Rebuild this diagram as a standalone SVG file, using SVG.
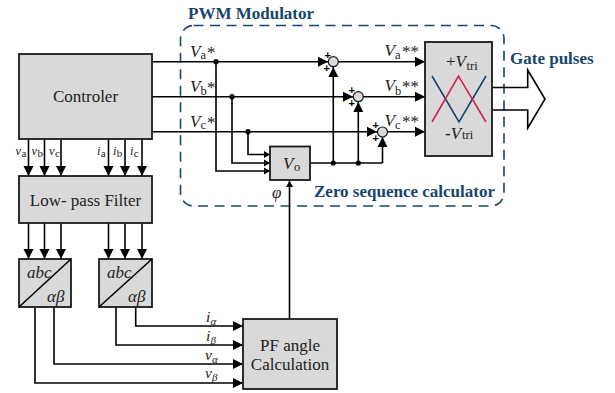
<svg xmlns="http://www.w3.org/2000/svg" width="615" height="393" viewBox="0 0 615 393">
<style>
.b{fill:#d9d9d9;stroke:#1a1a1a;stroke-width:1.8}
.c{fill:none;stroke:#000;stroke-width:1.6}
.t{font-family:"Liberation Serif",serif;fill:#222}
.i{font-style:italic}
.h{font-family:"Liberation Serif",serif;font-weight:bold;fill:#17456e;font-size:17px}
.m{font-size:17px}
.s{font-size:11px}
.x{font-size:12.500px}
.l{font-size:17px}
.n{font-size:12.500px}
.g{font-size:15.500px}
.d{fill:#000}
.o{fill:#d9d9d9;stroke:#1a1a1a;stroke-width:1.2}
.p{font-family:"Liberation Sans",sans-serif;font-weight:bold;font-size:11px;fill:#000;text-anchor:middle}
</style>
<defs>
<marker id="a" markerUnits="userSpaceOnUse" markerWidth="11" markerHeight="12" refX="10" refY="6" orient="auto"><path d="M0 1L10 6L0 11Z" fill="#000"/></marker>
<marker id="n" markerUnits="userSpaceOnUse" markerWidth="7" markerHeight="8" refX="6" refY="4" orient="auto"><path d="M0 0.5L6 4L0 7.500Z" fill="#000"/></marker>
</defs>
<rect x="180.500" y="25.500" width="323.500" height="180.500" rx="13" fill="none" stroke="#17456e" stroke-width="1.600" stroke-dasharray="10 6.500"/>
<g id="connectors">
<path class="c" marker-end="url(#a)" d="M152 61.700H328"/>
<path class="c" marker-end="url(#a)" d="M152 96.700H353"/>
<path class="c" marker-end="url(#a)" d="M152 131.700H377"/>
<path class="c" marker-end="url(#a)" d="M338 61.700H425"/>
<path class="c" marker-end="url(#a)" d="M363 96.700H425"/>
<path class="c" marker-end="url(#a)" d="M387 131.700H425"/>
<path class="c" marker-end="url(#n)" d="M248 131.700V154.500H270"/>
<path class="c" marker-end="url(#n)" d="M232 96.700V163H270"/>
<path class="c" marker-end="url(#n)" d="M216 61.700V171H270"/>
<path class="c" d="M310 163H382.500"/>
<path class="c" marker-end="url(#a)" d="M333.300 163V67"/>
<path class="c" marker-end="url(#a)" d="M358.300 163V102"/>
<path class="c" marker-end="url(#a)" d="M382.500 163V137"/>
<path class="c" marker-end="url(#n)" d="M289.500 319V181"/>
<path class="c" marker-end="url(#a)" d="M28.500 139V176"/>
<path class="c" marker-end="url(#a)" d="M44.500 139V176"/>
<path class="c" marker-end="url(#a)" d="M61 139V176"/>
<path class="c" marker-end="url(#a)" d="M108.500 139V176"/>
<path class="c" marker-end="url(#a)" d="M125 139V176"/>
<path class="c" marker-end="url(#a)" d="M142 139V176"/>
<path class="c" marker-end="url(#a)" d="M28.500 223V259"/>
<path class="c" marker-end="url(#a)" d="M44.500 223V259"/>
<path class="c" marker-end="url(#a)" d="M61 223V259"/>
<path class="c" marker-end="url(#a)" d="M108.500 223V259"/>
<path class="c" marker-end="url(#a)" d="M125 223V259"/>
<path class="c" marker-end="url(#a)" d="M142 223V259"/>
<path class="c" marker-end="url(#a)" d="M135.700 307V326H243"/>
<path class="c" marker-end="url(#a)" d="M116 307V345H243"/>
<path class="c" marker-end="url(#a)" d="M54 307V364H243"/>
<path class="c" marker-end="url(#a)" d="M35 307V383H243"/>
<path class="c" d="M492 87.500H527.700V70L545 99L527.700 128V110H492"/>
<circle class="d" cx="216" cy="61.700" r="2.600"/>
<circle class="d" cx="232" cy="96.700" r="2.600"/>
<circle class="d" cx="248" cy="131.700" r="2.600"/>
<circle class="d" cx="333.300" cy="163" r="2.600"/>
<circle class="d" cx="358.300" cy="163" r="2.600"/>
</g>
<g id="sum-a"><circle class="o" cx="333.300" cy="61.700" r="5"/><text class="p" x="327.700" y="59">+</text><text class="p" x="326.700" y="72">+</text></g>
<g id="sum-b"><circle class="o" cx="358.300" cy="96.700" r="5"/><text class="p" x="351.700" y="94">+</text><text class="p" x="351.700" y="107">+</text></g>
<g id="sum-c"><circle class="o" cx="382.500" cy="132" r="5"/><text class="p" x="375.700" y="129">+</text><text class="p" x="375.700" y="142">+</text></g>
<g id="controller"><rect class="b" x="19" y="54" width="133" height="85"/><text class="t l" x="85.500" y="102" text-anchor="middle">Controler</text></g>
<g id="filter"><rect class="b" x="19" y="176" width="133" height="47"/><text class="t l" x="85.500" y="206" text-anchor="middle">Low- pass Filter</text></g>
<g id="abc-v"><rect class="b" x="19" y="259" width="52" height="48"/><path class="c" d="M19 307L71 259"/><text class="t i l" x="27" y="278">abc</text><text class="t i l" x="47" y="302">αβ</text></g>
<g id="abc-i"><rect class="b" x="99" y="259" width="53" height="48"/><path class="c" d="M99 307L152 259"/><text class="t i l" x="107" y="278">abc</text><text class="t i l" x="128" y="302">αβ</text></g>
<g id="pf"><rect class="b" x="243" y="319" width="94" height="70"/><text class="t l" x="290" y="351" text-anchor="middle">PF angle</text><text class="t l" x="290" y="370" text-anchor="middle">Calculation</text></g>
<g id="vo"><rect class="b" x="270" y="146.500" width="40" height="33.500"/><text class="t i m" x="283" y="169">V</text><text class="t x" x="294" y="171">o</text></g>
<g id="tri"><rect class="b" x="425" y="42" width="67" height="114"/>
<path d="M432 76L459 122L486 76" fill="none" stroke="#17456e" stroke-width="1.600"/>
<path d="M432 122L458.500 76L486 122" fill="none" stroke="#d4234f" stroke-width="1.600"/>
<text class="t m" x="446" y="67">+<tspan class="i">V</tspan></text><text class="t x" x="466.500" y="70">tri</text>
<text class="t m" x="445" y="139"><tspan font-weight="bold">-</tspan><tspan class="i">V</tspan></text><text class="t x" x="462" y="139">tri</text></g>
<g id="labels">
<text class="h" x="188" y="19">PWM Modulator</text>
<text class="h" x="314" y="197">Zero sequence calculator</text>
<text class="h" x="510" y="64">Gate pulses</text>
<g class="t">
<text class="i m" x="190" y="57">V</text><text class="x" x="200.500" y="59">a</text><text class="m" x="207" y="58">*</text>
<text class="i m" x="190" y="92">V</text><text class="x" x="200.500" y="95">b</text><text class="m" x="207" y="93">*</text>
<text class="i m" x="190" y="127">V</text><text class="x" x="200.500" y="129">c</text><text class="m" x="207" y="128">*</text>
<text class="i m" x="384.500" y="56">V</text><text class="x" x="395" y="59">a</text><text class="m" x="402" y="57">**</text>
<text class="i m" x="384.500" y="91">V</text><text class="x" x="395" y="95">b</text><text class="m" x="402" y="92">**</text>
<text class="i m" x="384.500" y="126">V</text><text class="x" x="395" y="129">c</text><text class="m" x="402" y="127">**</text>
<text class="i m" x="272" y="198">φ</text>
<text class="i n" x="15.500" y="155">v</text><text class="s" x="21.500" y="157">a</text>
<text class="i n" x="31.500" y="155">v</text><text class="s" x="37.500" y="157">b</text>
<text class="i n" x="49" y="155">v</text><text class="s" x="55" y="157">c</text>
<text class="i n" x="97" y="155">i</text><text class="s" x="100.800" y="157">a</text>
<text class="i n" x="113" y="155">i</text><text class="s" x="116.800" y="157">b</text>
<text class="i n" x="130" y="155">i</text><text class="s" x="133.800" y="157">c</text>
<text class="i g" x="206" y="322">i</text><text class="i s" x="210.500" y="325">α</text>
<text class="i g" x="206" y="341">i</text><text class="i s" x="210.500" y="344">β</text>
<text class="i g" x="205" y="360">v</text><text class="i s" x="212" y="363">α</text>
<text class="i g" x="205" y="378">v</text><text class="i s" x="212" y="381">β</text>
</g>
</g>
</svg>
